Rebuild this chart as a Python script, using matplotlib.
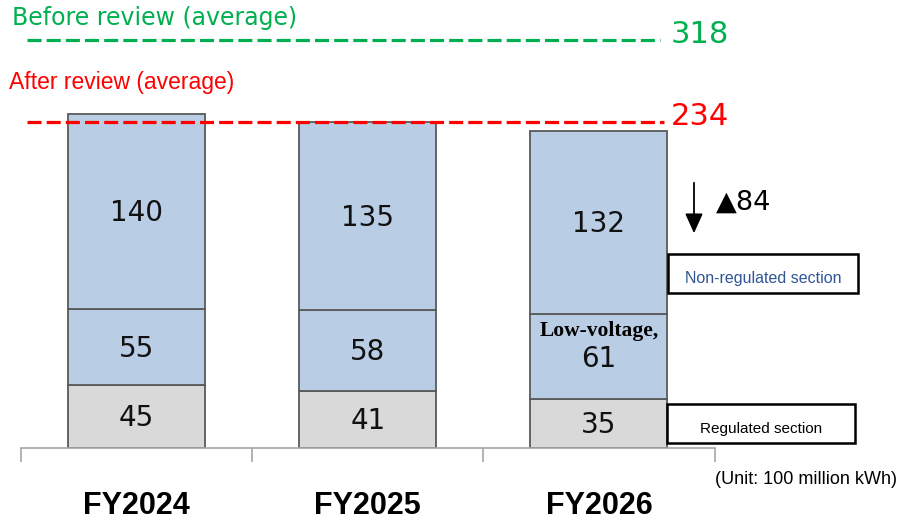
import matplotlib.pyplot as plt
import numpy as np
from matplotlib.patches import Rectangle, FancyArrowPatch

# data (100 million kWh)
years = ["FY2024", "FY2025", "FY2026"]
regulated = [45, 41, 35]
low_voltage = [55, 58, 61]
non_regulated = [140, 135, 132]
after_avg = 234
before_avg = 318
reduction = 84

W, H = 898, 521
fig = plt.figure(figsize=(W / 100, H / 100), dpi=100)

def fx(px):
    return px / W

def fy(py):
    return 1 - py / H

ax = fig.add_axes([fx(21), 73 / H, 693.5 / W, 448 / H])
ax.set_xlim(-0.5, 2.5)
ax.set_ylim(0, 322)

x = np.arange(len(years))
bw = 0.593
blue = "#B9CDE4"
grey = "#D9D9D9"
edge = "#595959"

ax.bar(x, regulated, bw, color=grey, edgecolor=edge, linewidth=1.3)
ax.bar(x, low_voltage, bw, bottom=regulated, color=blue, edgecolor=edge, linewidth=1.3)
bottom2 = np.array(regulated) + np.array(low_voltage)
ax.bar(x, non_regulated, bw, bottom=bottom2, color=blue, edgecolor=edge, linewidth=1.3)

lab_font = dict(fontsize=20, color="#111111", ha="center", va="center", family="DejaVu Sans")
for i in range(len(years)):
    ax.text(x[i], regulated[i] / 2 - 1, str(regulated[i]), **lab_font)
    if i == 2:
        ax.text(x[i], regulated[i] + low_voltage[i] * 0.47, str(low_voltage[i]), **lab_font)
        ax.text(x[i], regulated[i] + low_voltage[i] * 0.8, "Low-voltage,", fontsize=15.5,
                fontweight="bold", family="Liberation Serif", ha="center", va="center")
    else:
        ax.text(x[i], regulated[i] + low_voltage[i] / 2 - 1, str(low_voltage[i]), **lab_font)
    ax.text(x[i], bottom2[i] + non_regulated[i] / 2 - 1, str(non_regulated[i]), **lab_font)

# average lines
before_y = 293  # drawn schematically, not to scale
ax.plot([-0.474, 2.265], [before_y, before_y], color="#00B050", lw=2.3,
        dashes=(4.4, 1.6), clip_on=False)
ax.plot([-0.474, 2.28], [after_avg, after_avg], color="#FF0000", lw=2.3,
        dashes=(4.4, 1.6), clip_on=False)
ax.text(2.31, before_y + 4, str(before_avg), color="#00B050", fontsize=22,
        va="center", ha="left")
ax.text(2.31, after_avg + 4, str(after_avg), color="#FF0000", fontsize=22,
        va="center", ha="left")

fig.text(fx(12), fy(18), "Before review (average)", color="#00B050", fontsize=17,
         va="center", ha="left")
fig.text(fx(9), fy(83), "After review (average)", color="#FF0000", fontsize=16.5,
         va="center", ha="left", family="Liberation Sans")

# axis styling
for s in ["left", "top", "right"]:
    ax.spines[s].set_visible(False)
ax.spines["bottom"].set_color("#A6A6A6")
ax.spines["bottom"].set_linewidth(1.2)
ax.set_yticks([])
ax.set_xticks([-0.5, 0.5, 1.5, 2.5])
ax.set_xticklabels([])
ax.tick_params(axis="x", length=10, width=1.2, color="#A6A6A6")

for i, yr in enumerate(years):
    ax.text(x[i], -0.13, yr, transform=ax.get_xaxis_transform(), ha="center", va="center",
            fontsize=22, fontweight="bold", family=["Liberation Sans Narrow", "Liberation Sans"])

fig.text(fx(897), fy(479), "(Unit: 100 million kWh)", ha="right", va="center", fontsize=13,
         family=["Liberation Sans Narrow", "Liberation Sans"])

# reduction arrow
fig.patches.append(FancyArrowPatch(
    (fx(694), fy(180)), (fx(694), fy(236)), transform=fig.transFigure,
    arrowstyle="-|>,head_length=0.6,head_width=0.27", mutation_scale=20, color="black", lw=1.3))
fig.text(fx(716), fy(203), "\u25B2" + str(reduction), fontsize=19.5, va="center", ha="left",
         family="DejaVu Sans")

# legend boxes
fig.patches.append(Rectangle((fx(668), fy(293)), 190 / W, 39 / H, transform=fig.transFigure,
                             facecolor="white", edgecolor="black", lw=1.8))
fig.text(fx(763), fy(278), "Non-regulated section", color="#2F5597", fontsize=11.5,
         ha="center", va="center", family="Liberation Sans")
fig.patches.append(Rectangle((fx(667), fy(443)), 188 / W, 39 / H, transform=fig.transFigure,
                             facecolor="white", edgecolor="black", lw=1.8))
fig.text(fx(761), fy(429), "Regulated section", color="black", fontsize=11,
         ha="center", va="center", family=["Liberation Sans Narrow", "Liberation Sans"])

fig.savefig("out.png", dpi=100)
